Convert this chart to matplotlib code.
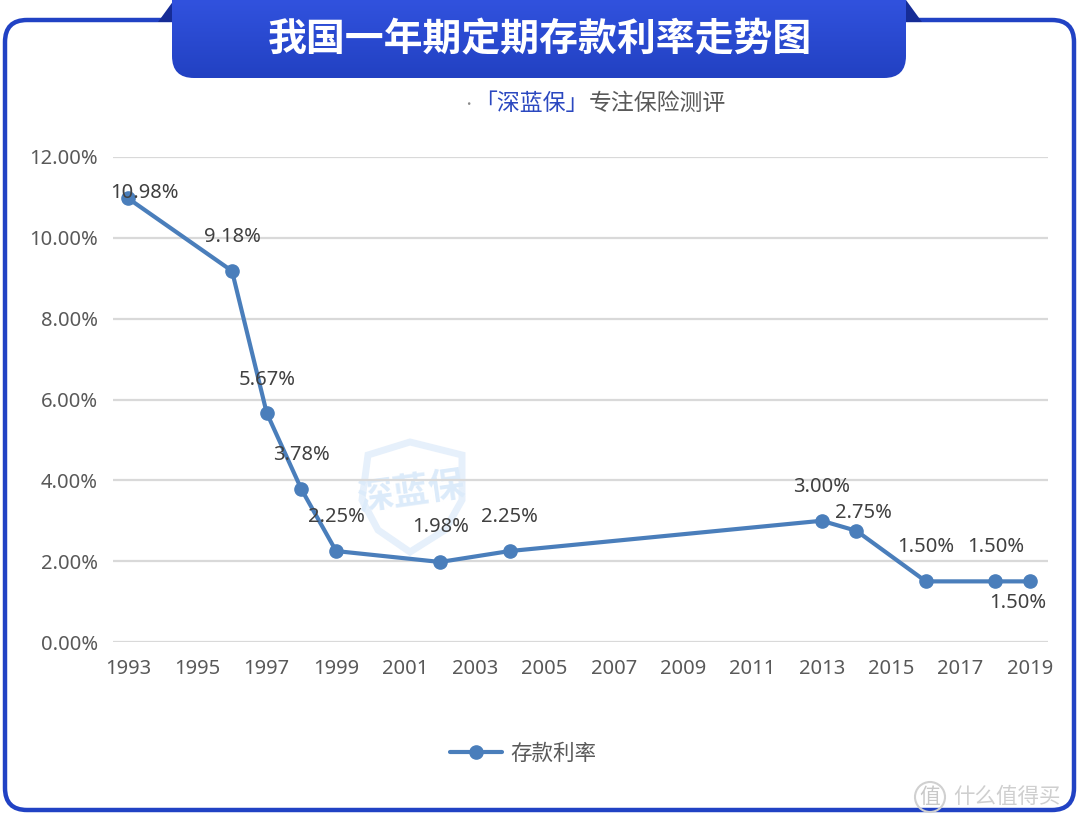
import matplotlib.pyplot as plt
import numpy as np
from matplotlib.patches import FancyBboxPatch, Polygon, Circle
from matplotlib.colors import LinearSegmentedColormap
from matplotlib.ticker import FuncFormatter

plt.rcParams['font.family'] = ['Noto Sans CJK SC', 'DejaVu Sans']
num_font = ['Noto Sans', 'Noto Sans CJK SC']

# data
years = [1993, 1996, 1997, 1998, 1999, 2002, 2004, 2013, 2014, 2016, 2018, 2019]
rates = [10.98, 9.18, 5.67, 3.78, 2.25, 1.98, 2.25, 3.00, 2.75, 1.50, 1.50, 1.50]
xticks = list(range(1993, 2020, 2))
yticks = [0, 2, 4, 6, 8, 10, 12]
series_name = '存款利率'
title = '我国一年期定期存款利率走势图'
sub_brand = '「深蓝保」'
sub_text = '专注保险测评'

# label offsets in pixels (dx, dy up)
label_off = [(16, 5), (0, 34), (0, 33), (0, 34), (0, 34), (0, 35), (0, 34),
             (0, 34), (7, 18), (0, 34), (0, 34), (-12, -22)]

W, H = 1080, 824
fig = plt.figure(figsize=(W / 100, H / 100), dpi=100)

# background layer in pixel coords
bg = fig.add_axes([0, 0, 1, 1], zorder=0)
bg.axis('off')

blue = '#2142c4'
border = FancyBboxPatch((5, 20), 1069, 790, boxstyle='round,pad=0,rounding_size=22',
                        fc='white', ec=blue, lw=3.2)
bg.add_patch(border)

# ribbon tabs
bg.add_patch(Polygon([[158, 22], [174, 0], [174, 22]], closed=True, fc='#162c96', ec='none'))
bg.add_patch(Polygon([[922, 22], [906, 0], [906, 22]], closed=True, fc='#162c96', ec='none'))

banner = FancyBboxPatch((172, -30), 734, 108, boxstyle='round,pad=0,rounding_size=22',
                        fc='none', ec='none')
bg.add_patch(banner)
grad = np.linspace(0, 1, 100).reshape(-1, 1)
cm = LinearSegmentedColormap.from_list('g', ['#3152de', '#2241c2'])
im = bg.imshow(grad, cmap=cm, extent=(172, 906, 78, 0), aspect='auto', zorder=2)
im.set_clip_path(banner)
bg.set_xlim(0, W)
bg.set_ylim(H, 0)

bg.text(540, 40, title, color='white', fontsize=28, fontweight='bold',
        ha='center', va='center', zorder=3)

bg.text(468, 104, '·', color='#8a8a8a', fontsize=9, ha='center', va='center')
t1 = bg.text(474, 103, sub_brand, color='#2b48c0', fontsize=16.5,
             ha='left', va='center')
bg.annotate(sub_text, xy=(1, 0.5), xycoords=t1, color='#595959', fontsize=16.5,
            ha='left', va='center')

# watermark shield
shield = Polygon([[368, 455], [410, 442], [462, 455], [462, 500], [445, 530],
                  [410, 552], [378, 530], [362, 500]], closed=True,
                 fc='none', ec='#e6f0fb', lw=5, zorder=1)
bg.add_patch(shield)
bg.text(412, 492, '深蓝保', color='#dcebfa', fontsize=26, fontweight='bold',
        ha='center', va='center', rotation=8, style='italic', zorder=1)

# bottom-right watermark
bg.add_patch(Circle((930, 797), 15, fc='none', ec='#d0d0d0', lw=1.5))
bg.text(930, 797, '值', color='#c8c8c8', fontsize=15, ha='center', va='center')
bg.text(953, 797, '什么值得买', color='#cfcfcf', fontsize=15.5, ha='left', va='center')

# main chart
ax = fig.add_axes([113 / W, 1 - 642 / H, (1048 - 113) / W, (642 - 157) / H], zorder=1)
ax.patch.set_alpha(0)
line_color = '#4a7ebb'
ax.plot(years, rates, color=line_color, lw=3, marker='o', ms=9.5, label=series_name,
        solid_capstyle='round', zorder=3)
ax.set_xlim(1992.57, 2019.52)
ax.set_ylim(0, 12)
ax.set_xticks(xticks)
ax.set_yticks(yticks)
ax.yaxis.set_major_formatter(FuncFormatter(lambda v, p: f'{v:.2f}%'))
ax.grid(axis='y', color='#d9d9d9', lw=1.6)
ax.set_axisbelow(True)
ax.tick_params(length=0, labelsize=14.5, labelcolor='#595959')
ax.tick_params(axis='y', pad=11)
ax.tick_params(axis='x', pad=12)
for lab in ax.get_xticklabels() + ax.get_yticklabels():
    lab.set_family(num_font)
for s in ax.spines.values():
    s.set_visible(False)

for x, y, (dx, dy) in zip(years, rates, label_off):
    ax.annotate(f'{y:.2f}%', (x, y), xytext=(dx * 0.72, dy * 0.72), textcoords='offset points',
                ha='center', va='center', fontsize=14.5, color='#404040', zorder=4,
                family=num_font)

fig.legend(loc='center', bbox_to_anchor=(523 / W, 1 - 754 / H), frameon=False,
           fontsize=15.5, labelcolor='#595959', handlelength=2.4, handletextpad=0.4)

fig.savefig('out.png', dpi=100)
